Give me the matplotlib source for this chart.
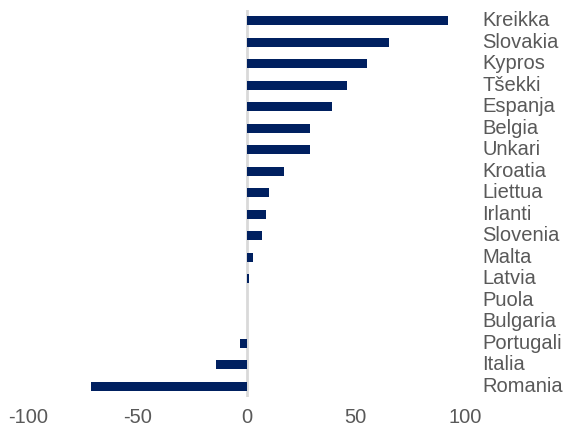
import matplotlib
matplotlib.use("Agg")
import matplotlib.pyplot as plt

# Values
countries = ["Kreikka", "Slovakia", "Kypros", "Tšekki", "Espanja", "Belgia",
             "Unkari", "Kroatia", "Liettua", "Irlanti", "Slovenia", "Malta",
             "Latvia", "Puola", "Bulgaria", "Portugali", "Italia", "Romania"]
values = [92, 65, 55, 46, 39, 29, 29, 17, 10.5, 9, 7, 3, 1.3, 0.3, 0.2, -3, -14, -71]
x_ticks = [-100, -50, 0, 50, 100]

navy = "#002060"
grey_text = "#595959"

plt.rcParams["font.family"] = ["Liberation Sans", "DejaVu Sans"]

fig = plt.figure(figsize=(5.7, 4.29), dpi=100)
ax = fig.add_axes([28 / 570, 1 - 397 / 429, (465 - 28) / 570, (397 - 10) / 429])

ypos = list(range(len(countries)))
ax.barh(ypos, values, height=0.42, color=navy, zorder=3)
ax.axvline(0, color="#d9d9d9", linewidth=2, zorder=2)

ax.set_xlim(-100, 100)
ax.set_ylim(len(countries) - 0.5, -0.5)
ax.set_xticks(x_ticks)
ax.set_xticklabels([str(t) for t in x_ticks], fontsize=14.5, color=grey_text)
ax.tick_params(axis="x", length=0, pad=8)
ax.set_yticks([])
for s in ax.spines.values():
    s.set_visible(False)

for y, name in zip(ypos, countries):
    ax.text(108, y, name, fontsize=14.5, color=grey_text, va="center", ha="left",
            clip_on=False)

fig.savefig("out.png", dpi=100)
